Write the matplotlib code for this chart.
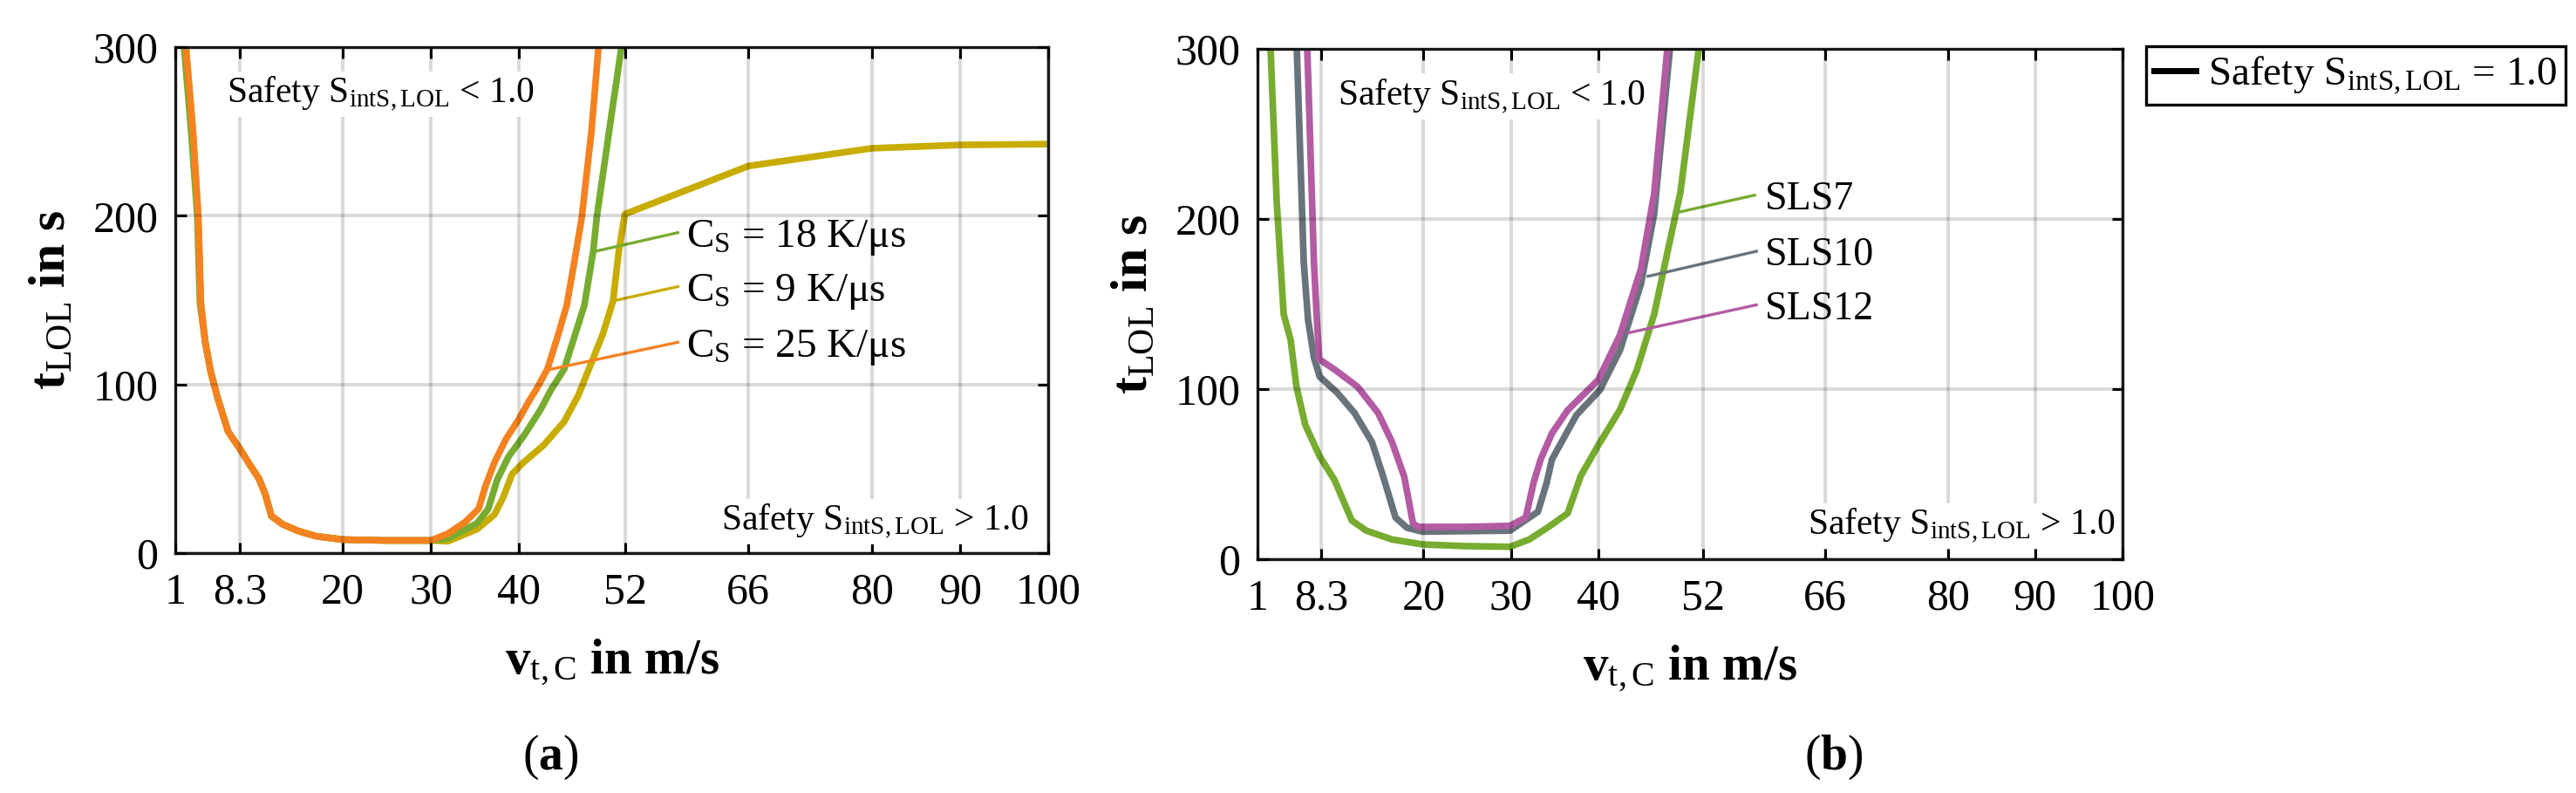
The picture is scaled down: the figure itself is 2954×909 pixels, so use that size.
import matplotlib.pyplot as plt
from matplotlib.lines import Line2D

plt.rcParams['font.family'] = ['Liberation Serif', 'DejaVu Serif']
plt.rcParams['mathtext.fontset'] = 'custom'
plt.rcParams['mathtext.rm'] = 'Liberation Serif'
plt.rcParams['mathtext.it'] = 'Liberation Serif:italic'
plt.rcParams['mathtext.bf'] = 'Liberation Serif:bold'

# axis ticks
x_ticks = [1, 8.3, 20, 30, 40, 52, 66, 80, 90, 100]
x_labels = ['1', '8.3', '20', '30', '40', '52', '66', '80', '90', '100']
y_ticks = [0, 100, 200, 300]

# (a) different C_S
cs25_x = [2.2, 3.0, 3.6, 3.9, 4.4, 5.0, 5.8, 7.0, 8.3, 9.5, 10.5, 11.2, 11.9, 13.2, 15, 17, 20, 25,
          30, 31.9, 33.9, 35.4, 36.2, 37.2, 38.5, 40.0, 41.1, 41.9, 43.2, 44.4, 45.4, 46.3, 47.1, 48.2, 49.0]
cs25_y = [300, 250, 200, 148, 125, 108, 92, 72, 62, 52, 44, 35, 22, 17, 13, 10, 8, 7.5,
          7.5, 11.5, 18.5, 26.2, 40, 53.8, 67.6, 79.7, 90, 96.7, 109, 129, 147, 174, 199, 250, 300]

cs18_x = [2.0, 2.8, 3.5, 3.8, 4.4, 5.0, 5.8, 7.0, 8.3, 9.5, 10.5, 11.2, 11.9, 13.2, 15, 17, 20, 25,
          30, 31.9, 35.2, 36.5, 37.5, 38.8, 40.5, 42.4, 43.6, 45.1, 47.4, 48.4, 48.8, 50.2, 51.6]
cs18_y = [300, 250, 200, 148, 125, 108, 92, 72, 62, 52, 44, 35, 22, 17, 13, 10, 8, 7.5,
          7.5, 8.7, 17.6, 26.2, 43.4, 57.2, 69.3, 84.8, 96.7, 109, 147, 179, 199, 250, 300]

cs9_x = [2.2, 3.0, 3.6, 3.9, 4.4, 5.0, 5.8, 7.0, 8.3, 9.5, 10.5, 11.2, 11.9, 13.2, 15, 17, 20, 25,
         30, 31.9, 35.2, 37.2, 38.2, 39.2, 40.5, 42.8, 45.1, 46.7, 47.9, 49.5, 50.65, 51.3, 52.0,
         66, 80, 90, 100]
cs9_y = [300, 250, 200, 148, 125, 108, 92, 72, 62, 52, 44, 35, 22, 17, 13, 10, 8, 7.5,
         7.5, 7, 14.1, 22.8, 33.1, 46.9, 53.8, 64.1, 77.9, 93.4, 109, 130, 149.5, 179, 201,
         229.5, 240, 242, 242.5]

# (b) different SLS
sls7_x = [2.5, 3.2, 4.0, 4.8, 5.46, 6.46, 8.12, 9.8, 10.8, 11.8, 13.45, 16.4, 19.9, 24.75, 29.9,
          32.1, 34.4, 36.5, 38.0, 40.0, 42.5, 44.4, 46.4, 47.9, 49.4, 51.5]
sls7_y = [300, 210, 144, 128.7, 101.4, 79.1, 60.4, 46.7, 34.7, 22.7, 16.8, 11.6, 8.7, 7.7, 7.3,
          11.6, 19.3, 27, 49, 67, 88, 111, 144, 180, 215.6, 300]

sls10_x = [5.5, 6.29, 6.79, 7.46, 8.12, 10.1, 12.1, 14.1, 15.4, 16.8, 18.1, 19.9, 29.9,
           33.1, 34.1, 34.7, 37.5, 40.2, 42.5, 44.9, 46.4, 48.2]
sls10_y = [300, 174.9, 140.7, 118.5, 107.3, 98, 86, 68.9, 48.4, 24.5, 18.5, 16.2, 16.8,
           27.9, 45, 58.6, 84.7, 99.5, 123, 162, 203, 300]

sls12_x = [6.7, 7.46, 7.8, 8.05, 9.8, 12.45, 14.8, 16.4, 17.8, 18.8, 19.4, 24.75, 29.9,
           31.7, 32.6, 33.4, 34.7, 36.5, 40.0, 42.5, 44.9, 46.4, 47.9]
sls12_y = [300, 174.9, 140.7, 117.6, 111.6, 101.4, 86, 68.9, 48.4, 21, 19, 19, 19.6,
           24.5, 45, 58.6, 74, 87.6, 105.4, 132, 171, 215, 300]

ORANGE = '#F58220'
GREEN = '#77AC30'
YELLOW = '#C9AC00'
GRAY = '#68737C'
PINK = '#B35BA3'

W, H = 2954, 909
fig = plt.figure(figsize=(W / 100, H / 100), dpi=100)
ax_a = fig.add_axes([201 / W, 1 - 634 / H, 1001 / W, 580 / H])
ax_b = fig.add_axes([1442 / W, 1 - 641 / H, 992 / W, 585 / H])

lw = 5.5
safety_lt = r'Safety $\mathrm{S}_{\mathrm{intS,LOL}}$ < 1.0'
safety_gt = r'Safety $\mathrm{S}_{\mathrm{intS,LOL}}$ > 1.0'
box = dict(facecolor='white', edgecolor='none', pad=3)


def style_axes(ax):
    ax.set_xlim(1, 100)
    ax.set_ylim(0, 300)
    ax.set_xticks(x_ticks)
    ax.set_xticklabels(x_labels)
    ax.set_yticks(y_ticks)
    ax.tick_params(direction='in', length=9, width=2.2, labelsize=36,
                   top=True, right=True, pad=14)
    ax.tick_params(axis='x', pad=16)
    for s in ax.spines.values():
        s.set_linewidth(2.4)
        s.set_color('#1a1a1a')
    ax.set_axisbelow(False)
    ax.grid(True, color='black', alpha=0.15, linewidth=2.8)
    ax.set_xlabel(r'$\mathbf{v}_{\mathrm{t,C}}$ in m/s', fontsize=41,
                  fontweight='bold', labelpad=20)
    ax.set_ylabel(r'$\mathbf{t}_{\mathrm{LOL}}$ in s', fontsize=43,
                  fontweight='bold', labelpad=14)


# panel (a)
ax = ax_a
ax.plot(cs9_x, cs9_y, color=YELLOW, lw=lw)
ax.plot(cs18_x, cs18_y, color=GREEN, lw=lw)
ax.plot(cs25_x, cs25_y, color=ORANGE, lw=lw)
style_axes(ax)

ax.plot([48.7, 58.0], [179, 190], color=GREEN, lw=2.4)
ax.plot([50.65, 58.0], [149.5, 158], color=YELLOW, lw=2.4)
ax.plot([43.6, 58.0], [109, 125], color=ORANGE, lw=2.4)
ax.text(59, 190, r'C$_\mathrm{S}$ = 18 K/μs', fontsize=34, va='center_baseline')
ax.text(59, 158, r'C$_\mathrm{S}$ = 9 K/μs', fontsize=34, va='center_baseline')
ax.text(59, 125, r'C$_\mathrm{S}$ = 25 K/μs', fontsize=34, va='center_baseline')

ax.text(6.8, 267, safety_lt, fontsize=30, va='baseline', bbox=box, zorder=5)
ax.text(62.9, 13.5, safety_gt, fontsize=30, va='baseline', bbox=box, zorder=5)

# panel (b)
ax = ax_b
ax.plot(sls7_x, sls7_y, color=GREEN, lw=lw)
ax.plot(sls10_x, sls10_y, color=GRAY, lw=lw)
ax.plot(sls12_x, sls12_y, color=PINK, lw=lw)
style_axes(ax)

ax.plot([49.2, 57.9], [204, 214], color=GREEN, lw=2.4)
ax.plot([45.7, 58.1], [166.3, 181], color=GRAY, lw=2.4)
ax.plot([43.4, 58.1], [133, 149.5], color=PINK, lw=2.4)
ax.text(59.1, 214, 'SLS7', fontsize=33, va='center_baseline')
ax.text(59.1, 181, 'SLS10', fontsize=33, va='center_baseline')
ax.text(59.1, 149.5, 'SLS12', fontsize=33, va='center_baseline')

ax.text(10.2, 267, safety_lt, fontsize=30, va='baseline', bbox=box, zorder=5)
ax.text(64, 14.4, safety_gt, fontsize=30, va='baseline', bbox=box, zorder=5)

# legend outside on the right
handle = Line2D([], [], color='black', lw=5)
leg = fig.legend([handle], [r'Safety $\mathrm{S}_{\mathrm{intS,LOL}}$ = 1.0'],
                 loc='upper left', bbox_to_anchor=(2461 / W, 1 - 53 / H),
                 fontsize=34, frameon=True, fancybox=False, framealpha=1,
                 handlelength=1.0, handletextpad=0.3, borderpad=0.2,
                 borderaxespad=0)
leg.get_frame().set_edgecolor('black')
leg.get_frame().set_linewidth(2.4)

fig.text(631 / W, 1 - 868 / H, r'($\mathbf{a}$)', fontsize=40, ha='center', va='center')
fig.text(2103 / W, 1 - 868 / H, r'($\mathbf{b}$)', fontsize=40, ha='center', va='center')

fig.savefig('out.png', dpi=100)
